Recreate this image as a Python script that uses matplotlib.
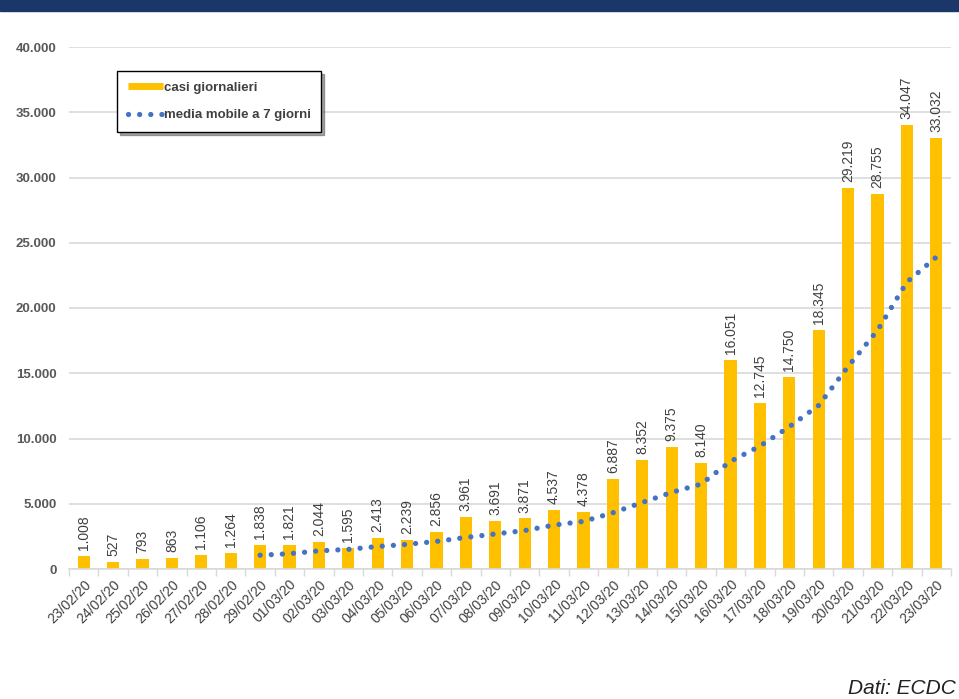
import matplotlib
matplotlib.use('Agg')
import matplotlib.pyplot as plt
from matplotlib.lines import Line2D
from matplotlib.patches import Rectangle
from matplotlib.ticker import FuncFormatter

plt.rcParams['font.family'] = ['Liberation Sans', 'DejaVu Sans']

date_labels = ['23/02/20', '24/02/20', '25/02/20', '26/02/20', '27/02/20', '28/02/20',
               '29/02/20', '01/03/20', '02/03/20', '03/03/20', '04/03/20', '05/03/20',
               '06/03/20', '07/03/20', '08/03/20', '09/03/20', '10/03/20', '11/03/20',
               '12/03/20', '13/03/20', '14/03/20', '15/03/20', '16/03/20', '17/03/20',
               '18/03/20', '19/03/20', '20/03/20', '21/03/20', '22/03/20', '23/03/20']
casi_giornalieri = [1008, 527, 793, 863, 1106, 1264, 1838, 1821, 2044, 1595,
                    2413, 2239, 2856, 3961, 3691, 3871, 4537, 4378, 6887, 8352,
                    9375, 8140, 16051, 12745, 14750, 18345, 29219, 28755, 34047, 33032]
# media mobile a 7 giorni (parte dal 29/02)
media_start = 6
media_mobile = [1057, 1173, 1390, 1504, 1726, 1888, 2115, 2418, 2686, 2947,
                3367, 3648, 4312, 5097, 5870, 6506, 8246, 9418, 10900, 12537,
                15518, 18286, 21987, 23900]
y_ticks = [0, 5000, 10000, 15000, 20000, 25000, 30000, 35000, 40000]

YELLOW = '#FFC000'
BLUE = '#4472C4'
TXT = '#404040'
TICK_TXT = '#595959'
GRID = '#D9D9D9'
DOTS = (0, (0.01, 2.1))

fig = plt.figure(figsize=(9.59, 6.99), dpi=100)
ax = fig.add_axes([69 / 959, 1 - 569 / 699, (951 - 69) / 959, (569 - 47) / 699])

x = list(range(len(casi_giornalieri)))
ax.bar(x, casi_giornalieri, width=0.42, color=YELLOW, zorder=2)
for xi, v in zip(x, casi_giornalieri):
    ax.text(xi, v + 450, f'{v:,}'.replace(',', '.'), rotation=90, ha='center', va='bottom',
            fontsize=10, color=TXT, zorder=3)

xm = list(range(media_start, media_start + len(media_mobile)))
ax.plot(xm, media_mobile, color=BLUE, linewidth=3.8, linestyle=DOTS,
        dash_capstyle='round', zorder=4)

ax.set_xlim(-0.5, len(x) - 0.5)
ax.set_ylim(0, 40000)
ax.set_yticks(y_ticks)
ax.yaxis.set_major_formatter(FuncFormatter(lambda v, p: f'{int(v):,}'.replace(',', '.')))
ax.grid(axis='y', color=GRID, linewidth=1.2, zorder=0)
ax.set_axisbelow(True)

ax.set_xticks(x)
ax.set_xticklabels(date_labels, rotation=45, ha='right', rotation_mode='anchor')
ax.set_xticks([i - 0.5 for i in range(len(x) + 1)], minor=True)
ax.tick_params(axis='x', which='major', length=0, pad=6, labelsize=10, labelcolor=TXT)
ax.tick_params(axis='x', which='minor', length=5, color=GRID, width=1)
ax.tick_params(axis='y', length=0, pad=9, labelsize=9.5, labelcolor=TICK_TXT)
for lab in ax.get_yticklabels():
    lab.set_fontweight('bold')

for side in ['top', 'right', 'left']:
    ax.spines[side].set_visible(False)
ax.spines['bottom'].set_color(GRID)
ax.spines['bottom'].set_linewidth(1.2)

handles = [Line2D([], [], color=YELLOW, linewidth=5, solid_capstyle='butt'),
           Line2D([], [], color=BLUE, linewidth=3.8, linestyle=DOTS,
                  dash_capstyle='round')]
leg = fig.legend(handles, ['casi giornalieri', 'media mobile a 7 giorni'],
                 loc='upper left', bbox_to_anchor=(117 / 959, 1 - 71 / 699),
                 frameon=True, fancybox=False, shadow=True, fontsize=9.5,
                 handlelength=2.65, handletextpad=0.1, borderpad=0.8,
                 labelspacing=1.15, borderaxespad=0)
leg.get_frame().set_edgecolor('black')
leg.get_frame().set_linewidth(1.0)
for t in leg.get_texts():
    t.set_color(TXT)
    t.set_fontweight('bold')

# banda blu del titolo (tagliata in alto nel riferimento)
fig.patches.append(Rectangle((0, 1 - 11 / 699), 1, 11 / 699, transform=fig.transFigure,
                             color='#1B3668', zorder=0))

fig.text(0.997, 1 - 688 / 699, 'Dati: ECDC', fontsize=15, style='italic',
         color='#222222', ha='right', va='center')

plt.savefig('out.png', dpi=100)
plt.close()
